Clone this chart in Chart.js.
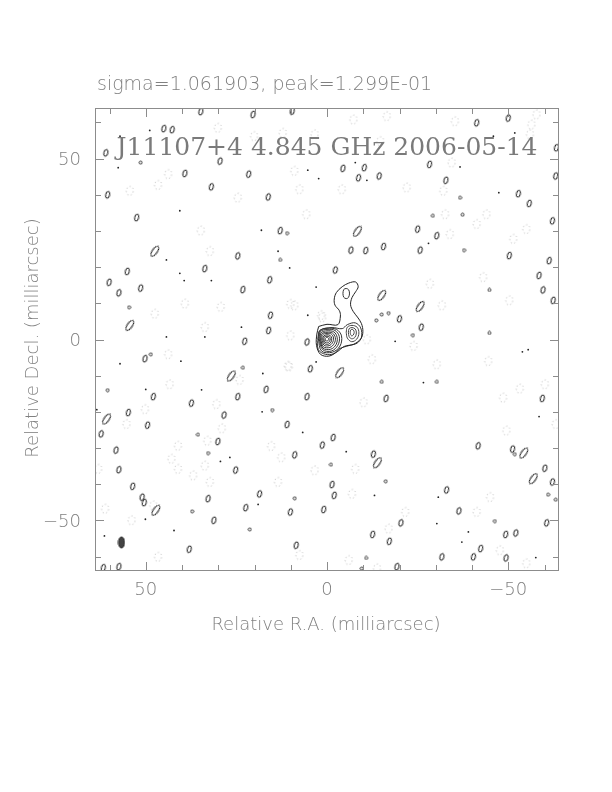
<!DOCTYPE html>
<html>
<head>
<meta charset="utf-8">
<script src="https://cdn.jsdelivr.net/npm/chart.js@4.4.1/dist/chart.umd.min.js"></script>
<style>
  html, body { margin: 0; padding: 0; background: #fff; }
  canvas { display: block; }
</style>
</head>
<body>
<canvas id="map" width="612" height="792"></canvas>
<script>
// map extent and axis ticks (milliarcsec)
const extent = 64;
const tickValues = [-60, -50, -40, -30, -20, -10, 0, 10, 20, 30, 40, 50, 60];
const labelValues = [50, 0, -50];

const titleText = "sigma=1.061903, peak=1.299E-01";
const mapLabel = "J11107+4 4.845 GHz 2006-05-14";
const xTitle = "Relative R.A. (milliarcsec)";
const yTitle = "Relative Decl. (milliarcsec)";

// source contours [RA, Dec]
const outerContour = [[2.3,3.6],[0.0,4.2],[-3.0,4.1],[-3.7,6.5],[-3.4,8.0],[-2.2,9.5],[-2.0,11.2],[-2.6,13.0],[-4.2,14.6],[-6.0,15.6],[-7.9,15.9],[-8.6,14.6],[-7.9,13.2],[-6.9,11.6],[-6.5,9.6],[-7.2,7.8],[-8.4,6.2],[-9.5,4.4],[-9.9,2.2],[-9.4,0.3],[-7.4,-1.3],[-4.8,-1.9],[-2.8,-3.4],[-0.5,-4.6],[1.8,-4.1],[2.9,-1.6],[2.8,1.5],[2.3,3.6]];
const bridgeContour = [[2.5,0.6],[1.9,2.6],[-1.4,3.3],[-4.2,3.0],[-5.6,4.1],[-7.8,4.6],[-9.3,3.2],[-9.5,0.6],[-8.3,-1.0],[-6.0,-1.7],[-3.3,-2.6],[-1.9,-3.9],[0.4,-4.1],[2.4,-2.8],[2.5,0.6]];
const coreLevels = [
  [[2.4,0.3],[2.0,2.4],[0.0,3.1],[-2.6,2.8],[-4.0,1.0],[-3.6,-1.8],[-1.5,-3.5],[1.5,-3.2],[2.4,0.3]],
  [[2.2,0.2],[1.8,2.2],[0.0,2.8],[-2.2,2.5],[-3.4,0.8],[-3.0,-1.6],[-1.2,-3.2],[1.2,-2.8],[2.2,0.2]],
  [[2.0,0.2],[1.6,1.9],[0.0,2.4],[-1.9,2.1],[-2.8,0.6],[-2.5,-1.4],[-1.0,-2.7],[1.1,-2.4],[2.0,0.2]],
  [[1.8,0.2],[1.4,1.6],[0.0,2.0],[-1.5,1.8],[-2.3,0.5],[-2.0,-1.1],[-0.8,-2.2],[1.0,-2.0],[1.8,0.2]],
  [[1.5,0.2],[1.2,1.3],[0.0,1.7],[-1.2,1.5],[-1.8,0.4],[-1.5,-0.9],[-0.6,-1.7],[0.8,-1.6],[1.5,0.2]],
  [[1.2,0.2],[0.9,1.0],[0.0,1.3],[-0.9,1.1],[-1.3,0.3],[-1.1,-0.7],[-0.4,-1.3],[0.6,-1.2],[1.2,0.2]],
  [[0.9,0.2],[0.6,0.8],[0.0,0.9],[-0.6,0.8],[-0.9,0.2],[-0.7,-0.5],[-0.2,-0.9],[0.5,-0.8],[0.9,0.2]],
  [[0.5,0.2],[0.3,0.5],[-0.1,0.6],[-0.4,0.4],[-0.5,0.1],[-0.3,-0.3],[0.1,-0.4],[0.4,-0.3],[0.5,0.2]]
];
const knotLevels = [
  [[-5.3,2.0],[-5.6,3.4],[-6.9,3.9],[-8.3,3.4],[-8.8,1.8],[-8.2,0.1],[-6.8,-0.6],[-5.6,0.4],[-5.3,2.0]],
  [[-5.9,2.0],[-6.1,3.0],[-6.9,3.3],[-7.8,2.9],[-8.1,1.8],[-7.7,0.6],[-6.8,0.2],[-6.1,0.8],[-5.9,2.0]],
  [[-6.4,2.0],[-6.5,2.6],[-6.9,2.8],[-7.3,2.6],[-7.5,1.9],[-7.2,1.2],[-6.8,1.0],[-6.5,1.4],[-6.4,2.0]]
];
const jetKnot = [[-4.4,12.7],[-4.6,13.8],[-5.3,14.1],[-6.0,13.7],[-6.2,12.6],[-5.9,11.6],[-5.3,11.3],[-4.6,11.7],[-4.4,12.7]];

// isolated noise contours [RA, Dec]
const posBlobs = [
  [34.8,63.0],[20.4,62.2],[9.6,63.1],[45.0,58.3],[42.7,58.0],[61.0,51.6],[29.5,49.3],[39.2,45.9],[21.6,45.7],[31.9,42.2],
  [60.5,40.0],[16.2,39.4],[52.5,33.7],[12.9,30.1],[24.6,23.1],[33.7,19.6],[55.1,18.8],[15.8,16.5],[60.1,15.8],[51.4,14.2],
  [23.2,13.8],[57.4,12.9],[15.6,6.7],[16.1,2.5],
  [-50.0,61.2],[-41.3,59.9],[-4.4,47.3],[-10.3,47.5],[-8.7,44.7],[-14.4,45.2],[-28.3,48.4],[-32.8,44.0],[-52.8,40.3],[-55.8,37.6],
  [-63.1,45.2],[-25.0,30.5],[-30.3,28.7],[-6.6,24.7],[-10.7,24.6],[-15.6,25.7],[-25.7,24.7],[-62.2,32.8],[-50.3,23.2],[-61.3,21.8],
  [-2.3,19.2],[-58.5,17.7],[-59.6,13.7],[-20.0,5.7],[-26.0,3.4],[-62.4,10.8],[-63.3,53.0],
  [22.7,-0.5],[5.5,-0.7],[50.2,-5.3],[4.6,-8.1],[16.8,-13.8],[24.6,-15.8],[47.9,-15.8],[5.5,-15.8],[37.4,-17.6],
  [54.8,-20.2],[28.4,-20.9],[49.5,-23.7],[11.0,-23.5],[62.3,-26.1],[30.1,-28.2],[1.3,-29.2],[58.2,-30.6],[8.9,-31.9],[57.4,-36.0],
  [25.2,-36.1],[53.6,-40.6],[18.6,-42.7],[51.0,-43.6],[50.4,-45.1],[32.8,-44.0],[22.4,-46.5],[10.1,-47.7],[0.9,-47.0],[31.2,-50.0],
  [8.5,-56.9],[38.0,-58.0],[61.7,-63.1],[57.4,-62.8],
  [-16.3,-16.3],[-59.4,-16.3],[-1.7,-27.1],[-41.7,-29.4],[-51.2,-30.3],[-12.8,-31.7],[-60.1,-35.6],[-62.2,-39.4],[-1.4,-40.1],[-2.0,-43.1],
  [-33.0,-41.6],[-36.4,-47.4],[-20.4,-50.7],[-12.6,-53.9],[-49.3,-53.9],[-52.1,-53.5],[-17.2,-55.8],[-60.6,-50.7],[-42.4,-57.8],[-31.7,-60.1],
  [-40.4,-60.1],[-49.4,-60.4],[-19.3,-62.8]
];
const posSmall = [
  [51.4,48.9],[11.0,29.4],[12.9,22.0],[54.6,8.9],
  [-36.7,39.2],[-29.2,34.2],[-37.4,34.5],[-37.8,24.7],[-44.8,13.7],[-13.6,5.3],[-15.1,6.9],[-17.0,7.3],[-23.7,1.2],[-44.8,1.8],
  [48.6,-4.1],[23.2,-7.8],[60.5,-14.0],[15.1,-19.5],[35.6,-26.3],[32.8,-31.4],[37.2,-47.5],[21.3,-52.5],[8.9,-43.9],
  [-15.1,-11.7],[-30.3,-11.7],[-51.8,-31.7],[-1.1,-34.6],[-16.2,-39.2],[-61.0,-42.9],[-63.1,-44.3],[-46.3,-50.2],[-10.8,-60.4],[-9.6,-63.3]
];
const posLarge = [
  [47.5,24.4],[54.4,3.9],[-8.4,29.9],[-15.1,12.2],[-25.7,9.1],
  [26.4,-10.1],[60.8,-22.0],[47.2,-47.2],[-3.5,-9.2],[-54.3,-31.4],[-13.9,-34.1],[-56.9,-38.5]
];
const specks = [
  [57.6,47.5],[40.6,35.6],[13.5,24.4],[10.3,19.8],[40.6,18.3],[39.4,16.3],[31.9,16.3],[44.3,22.0],[18.1,30.2],[5.3,46.8],
  [2.3,44.5],[44.3,0.7],[33.7,0.7],[23.6,3.4],[3.0,14.5],[5.3,6.7],[48.9,57.8],[57.1,56.2],
  [-51.8,57.1],[-36.7,47.7],[-11.0,44.0],[-47.4,40.6],[-28.0,26.6],[-7.8,48.9],[-45.9,56.2],
  [57.1,-6.7],[40.3,-6.0],[17.7,-9.4],[50.0,-13.8],[34.6,-13.9],[63.5,-19.4],[17.9,-20.0],[6.7,-25.7],[26.8,-32.6],[29.4,-33.7],
  [19.0,-45.6],[50.1,-49.7],[61.4,-54.3],[42.2,-52.8],[3.0,-6.2],
  [-26.6,-11.9],[-5.3,-31.0],[-13.1,-43.1],[-30.7,-43.6],[-39.0,-53.2],[-37.2,-56.0],[-57.6,-60.3],[-53.9,-3.4],[-55.5,-2.8],
  [-58.5,-21.3],[-30.3,-50.9],[-18.8,-0.5]
];
const negRings = [
  [43.8,45.7],[30.1,58.5],[24.6,39.2],[5.7,34.6],[7.6,41.5],[32.3,24.4],[29.3,9.0],[33.7,3.4],[9.0,9.4],[47.5,7.1],
  [46.6,42.7],[9.0,46.6],[54.4,41.1],[34.8,30.1],[3.4,56.7],[12.2,57.1],[20.1,56.2],[1.6,6.7],[39.2,9.9],
  [-7.3,60.8],[-16.5,61.7],[-35.3,60.3],[-56.4,59.4],[-56.0,56.7],[-32.1,41.1],[-22.0,42.0],[-34.4,48.9],[-4.1,41.5],[-32.6,34.6],
  [-44.0,34.6],[-41.3,31.9],[-43.1,17.2],[-28.4,15.4],[-31.7,9.4],[-50.3,10.8],[-33.9,29.1],[-51.4,27.8],[-55.0,30.5],[-14.7,54.8],[-57.8,62.2],
  [10.8,-7.3],[24.1,-11.2],[50.2,-19.3],[55.3,-23.4],[29.0,-24.6],[33.0,-28.0],[41.1,-29.4],[42.9,-33.0],[41.1,-35.8],[33.7,-34.9],
  [36.9,-37.6],[32.3,-39.4],[15.4,-29.5],[12.6,-32.6],[13.5,-39.4],[3.4,-36.2],[63.1,-35.8],[61.2,-46.8],[53.9,-50.0],[47.9,-45.9],
  [46.6,-60.1],[7.6,-59.6],[43.8,-4.1],[43.4,-12.4],[30.5,-17.9],
  [-30.3,-6.9],[-7.8,-35.8],[-6.9,-42.7],[-45.0,-43.6],[-21.6,-47.7],[-41.3,-47.7],[-17.0,-52.3],[-10.1,-17.4],[-60.1,-12.4],[-63.1,-23.4],
  [-53.2,-13.6],[-48.6,-16.1],[-44.5,-6.0],[-12.4,-5.5],[-47.7,-58.3],[-6.0,-61.0],[-13.8,-63.3],[-55.0,-61.9],[-23.9,-1.8],[-49.5,-25.2],
  [1.3,6.1],[-11.0,0.0],[10.1,9.8],[10.1,1.1],[10.5,-7.5]
];
const beamPos = [[56.7,-56.1]];

function xy(list) { return list.map(p => ({ x: p[0], y: p[1] })); }

function ellipseImg(w, h, stroke, fill, dash) {
  const c = document.createElement('canvas');
  c.width = w; c.height = h;
  const g = c.getContext('2d');
  g.beginPath();
  g.ellipse(w / 2, h / 2, w / 2 - 1, h / 2 - 1, 0, 0, Math.PI * 2);
  if (fill) { g.fillStyle = fill; g.fill(); }
  if (dash) g.setLineDash(dash);
  g.lineWidth = 1;
  g.strokeStyle = stroke;
  g.stroke();
  return c;
}

const blobImg = ellipseImg(6, 9, '#111');
const smallImg = ellipseImg(5, 5, '#333');
const largeImg = ellipseImg(7, 14, '#111');
const negImg = ellipseImg(9, 11, '#b4b4b4', null, [1, 2.5]);
const beamImg = ellipseImg(8, 13, '#222', '#444');

function contourSet(poly, color) {
  return { data: xy(poly), showLine: true, borderColor: color, borderWidth: 1,
           pointRadius: 0, tension: 0.35, fill: false };
}

const datasets = [
  { data: xy(negRings), pointStyle: negImg, rotation: 10 },
  { data: xy(specks), pointStyle: 'circle', pointRadius: 0.9, backgroundColor: '#222', borderWidth: 0 },
  { data: xy(posSmall), pointStyle: smallImg },
  { data: xy(posBlobs), pointStyle: blobImg, rotation: 15 },
  { data: xy(posLarge), pointStyle: largeImg, rotation: 35 },
  { data: xy(beamPos), pointStyle: beamImg },
  contourSet(outerContour, '#222'),
  contourSet(bridgeContour, '#333'),
  contourSet(jetKnot, '#333')
];
coreLevels.forEach(p => datasets.push(contourSet(p, '#333')));
knotLevels.forEach(p => datasets.push(contourSet(p, '#444')));

const frame = {
  id: 'frame',
  afterDraw(chart) {
    const { ctx, chartArea: a, scales: { x, y } } = chart;
    ctx.save();
    ctx.strokeStyle = '#8c8c8c';
    ctx.lineWidth = 1;
    ctx.strokeRect(a.left + 0.5, a.top + 0.5, a.width - 1, a.height - 1);
    ctx.beginPath();
    tickValues.forEach(v => {
      const len = v % 50 === 0 ? 9 : 6;
      const px = Math.round(x.getPixelForValue(v)) + 0.5;
      ctx.moveTo(px, a.bottom); ctx.lineTo(px, a.bottom - len);
      ctx.moveTo(px, a.top); ctx.lineTo(px, a.top + len);
      const py = Math.round(y.getPixelForValue(v)) + 0.5;
      ctx.moveTo(a.left, py); ctx.lineTo(a.left + len, py);
      ctx.moveTo(a.right, py); ctx.lineTo(a.right - len, py);
    });
    ctx.stroke();

    ctx.fillStyle = '#808080';
    ctx.font = '200 18px "DejaVu Sans"';
    ctx.textBaseline = 'alphabetic';
    labelValues.forEach(v => {
      const s = v < 0 ? '\u2212' + Math.abs(v) : String(v);
      ctx.textAlign = 'center';
      ctx.fillText(s, x.getPixelForValue(v), a.bottom + 24);
      ctx.textAlign = 'right';
      ctx.fillText(s, a.left - 14, y.getPixelForValue(v) + 6.5);
    });

    ctx.textAlign = 'left';
    ctx.font = '200 19px "DejaVu Sans"';
    ctx.fillText(titleText, 97, 90);

    ctx.textAlign = 'center';
    ctx.font = '200 18px "DejaVu Sans"';
    ctx.fillText(xTitle, 326, 630);
    ctx.save();
    ctx.translate(38, 338);
    ctx.rotate(-Math.PI / 2);
    ctx.fillText(yTitle, 0, 0);
    ctx.restore();

    ctx.font = '25px "DejaVu Serif"';
    ctx.fillStyle = '#7a7a7a';
    ctx.fillText(mapLabel, 327, 155);
    ctx.restore();
  }
};

new Chart(document.getElementById('map'), {
  type: 'scatter',
  data: { datasets },
  options: {
    responsive: false,
    devicePixelRatio: 1,
    animation: false,
    events: [],
    layout: { padding: { left: 95, top: 108, right: 53, bottom: 221 } },
    scales: {
      x: { type: 'linear', reverse: true, min: -extent, max: extent, display: false },
      y: { type: 'linear', min: -extent, max: extent, display: false }
    },
    plugins: { legend: { display: false }, tooltip: { enabled: false } }
  },
  plugins: [frame]
});
</script>
</body>
</html>
